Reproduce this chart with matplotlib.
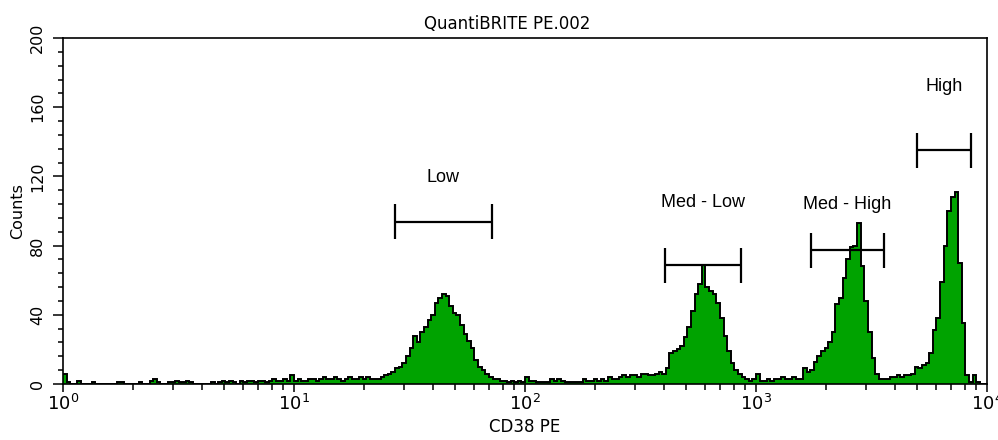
import matplotlib.pyplot as plt
import numpy as np
from matplotlib import font_manager
from matplotlib.ticker import FixedLocator, NullFormatter, MultipleLocator

# CD38 PE histogram, 256 log channels over 10^0 .. 10^4
counts = [
    6, 1, 0, 0, 2, 0, 0, 0, 1, 0,
    0, 0, 0, 0, 0, 1, 1, 0, 0, 0,
    0, 1, 0, 0, 2, 3, 1, 0, 0, 1,
    1, 2, 1, 1, 2, 1, 0, 0, 0, 0,
    0, 1, 0, 1, 2, 1, 2, 1, 0, 2,
    1, 2, 2, 1, 2, 2, 1, 2, 3, 2,
    2, 3, 2, 5, 2, 3, 2, 2, 3, 3,
    2, 3, 4, 3, 3, 4, 3, 2, 3, 4,
    3, 3, 4, 3, 4, 3, 3, 3,
    # low bead peak
    4, 5, 6, 7, 9, 10, 12, 16, 21, 28,
    24, 30, 33, 37, 40, 47, 50, 52, 51, 45,
    41, 40, 34, 29, 25, 21, 14, 10, 8, 6,
    4, 3, 3, 2, 2, 1, 2, 1, 2, 1, 4,
    2, 2, 1, 1, 1, 1, 3, 2, 3, 2,
    1, 1, 1, 1, 1, 3, 2, 2, 3, 2,
    3, 2, 4, 3, 3, 4, 5, 4, 5, 5,
    4, 6, 6, 5,
    # med-low
    5, 6, 7, 6, 9, 18, 19, 20, 22, 27,
    33, 42, 52, 58, 69, 56, 54, 52, 47, 38,
    28, 19, 12, 8, 6, 4, 3, 2, 3, 6,
    2, 2, 3, 2, 3, 3, 4, 3, 3, 4, 3, 3,
    # med-high
    9, 7, 8, 13, 16, 19, 21, 24, 30, 46,
    50, 61, 72, 79, 80, 93, 68, 48, 30, 15, 6, 3,
    3, 3, 4, 4, 5, 4, 5, 5, 6, 10, 9, 11, 12,
    # high
    18, 31, 38, 59, 80, 100, 108, 111, 70, 35,
    5, 1, 5, 1, 0, 0,
]
edges = np.logspace(0, 4, len(counts) + 1)

# marker gates
gate_names = ['Low', 'Med - Low', 'Med - High', 'High']
gate_lo = [27.4, 404, 1725, 4977]
gate_hi = [71.8, 859, 3582, 8531]
gate_level = [93.9, 68.6, 77.3, 135.1]
label_level = [116.5, 102.6, 100.9, 169.3]

# a narrow face suits the rotated y texts if one is around
names = {f.name for f in font_manager.fontManager.ttflist}
narrow = 'Liberation Sans Narrow' if 'Liberation Sans Narrow' in names else 'DejaVu Sans'
narrow_size = 13 if narrow != 'DejaVu Sans' else 11.5

plt.rcParams['font.family'] = 'DejaVu Sans'
plt.rcParams['mathtext.fontset'] = 'dejavusans'

fig = plt.figure(figsize=(9.98, 4.4), dpi=100)
ax = fig.add_axes([63 / 998, 56 / 440, 924 / 998, 346 / 440])

green = '#00a300'
ax.stairs(counts, edges, fill=True, color=green, lw=0)
ax.stairs(counts, edges, baseline=None, color='black', lw=1.4)

ax.set_xscale('log')
ax.set_xlim(1, 1e4)
ax.set_ylim(0, 200)

for s in ax.spines.values():
    s.set_linewidth(1.2)

# axis ticks
ax.xaxis.set_major_locator(FixedLocator([1, 10, 100, 1000, 10000]))
ax.set_xticklabels(['$10^{0}$', '$10^{1}$', '$10^{2}$', '$10^{3}$', '$10^{4}$'])
minor_x = [m * 10 ** d for d in range(4) for m in range(2, 10)]
ax.xaxis.set_minor_locator(FixedLocator(minor_x))
ax.xaxis.set_minor_formatter(NullFormatter())
ax.yaxis.set_major_locator(MultipleLocator(40))
ax.yaxis.set_minor_locator(MultipleLocator(8))

ax.tick_params(axis='x', which='major', length=6, width=1.1, labelsize=13, pad=1)
ax.tick_params(axis='x', which='minor', length=4, width=1.1)
ax.tick_params(axis='y', which='major', length=7, width=1.1, pad=6)
ax.tick_params(axis='y', which='minor', length=3.6, width=1.1)
for lbl in ax.get_yticklabels():
    lbl.set_rotation(90)
    lbl.set_va('center')
    lbl.set_family(narrow)
    lbl.set_fontsize(narrow_size)

ax.set_xlabel('CD38 PE', fontsize=12)
ax.xaxis.set_label_coords(0.5, -0.098)
ax.set_ylabel('Counts', family=narrow, fontsize=narrow_size)
ax.yaxis.set_label_coords(-0.041, 0.5)

ax.text(0.4805, 1.026, 'QuantiBRITE PE.002', transform=ax.transAxes,
        ha='center', va='baseline', fontsize=12)

# gate brackets with their labels
for name, lo, hi, lev, ty in zip(gate_names, gate_lo, gate_hi, gate_level, label_level):
    ax.plot([lo, hi], [lev, lev], color='black', lw=1.6, solid_capstyle='butt')
    ax.plot([lo, lo], [lev - 10, lev + 10], color='black', lw=1.6, solid_capstyle='butt')
    ax.plot([hi, hi], [lev - 10, lev + 10], color='black', lw=1.6, solid_capstyle='butt')
    ax.text(np.sqrt(lo * hi), ty, name, ha='center', va='baseline',
            family='Liberation Sans', fontsize=13)

fig.savefig('out.png', dpi=100)
